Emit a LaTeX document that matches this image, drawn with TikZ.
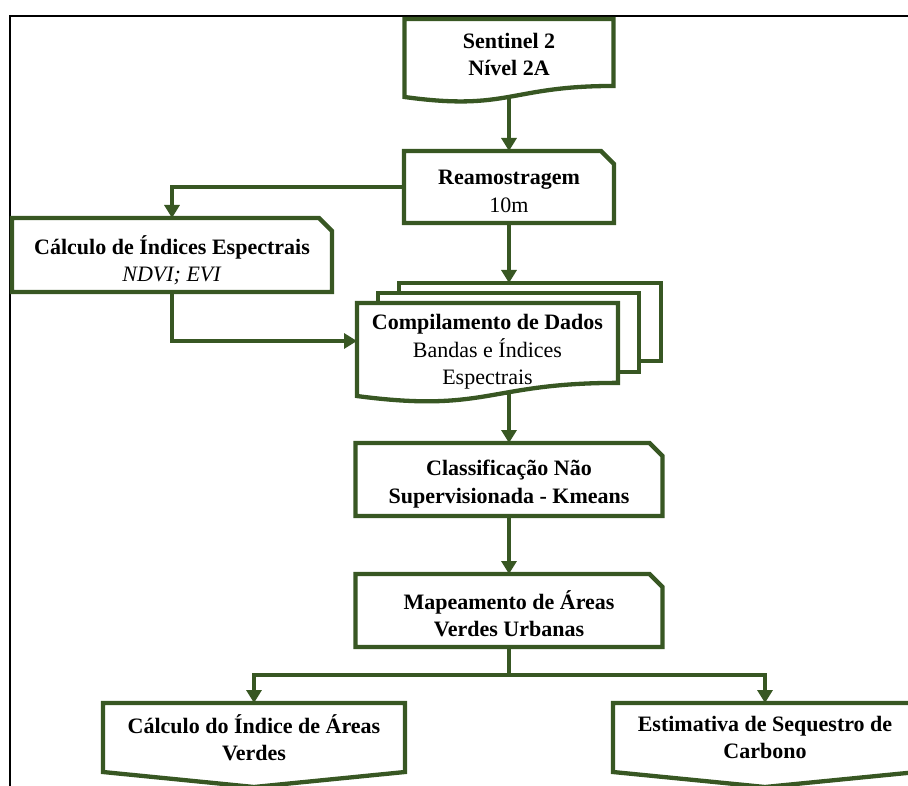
\documentclass[tikz,border=0pt]{standalone}
\usepackage{fontspec}
\setmainfont{Liberation Serif}
\usepackage{tikz}
\usetikzlibrary{arrows.meta, calc}
\definecolor{fluxo}{RGB}{56,87,35}

\newcommand{\docshape}[2]{\draw[caixa] (#1.north west) -- (#1.north east) -- ($(#1.north east)+(0,0.802*#2)$) .. controls ($(#1.north)+(0,0.802*#2)$) and ($(#1.north)+(0,1.107*#2)$) .. ($(#1.north west)+(0,0.934*#2)$) -- cycle;}
\newcommand{\snipshape}[1]{\draw[caixa] (#1.south west) -- (#1.north west) -- ($(#1.north east)+(-13,0)$) -- ($(#1.north east)+(0,13)$) -- (#1.south east) -- cycle;}
\newcommand{\offshape}[2]{\draw[caixa] (#1.north west) -- (#1.north east) -- (#1.south east) -- ($(#1.south)+(0,#2)$) -- (#1.south west) -- cycle;}

\begin{document}
\begin{tikzpicture}[x = 1pt, y = -1pt,
  texto/.style = {align = center, font = \fontsize{22}{27.5}\selectfont, inner sep = 0pt, outer sep = 0pt},
  caixa/.style = {draw = fluxo, line width = 4.3pt},
  seta/.style = {draw = fluxo, line width = 4.3pt, -{Triangle[length = 13pt, width = 15pt]}}]
\useasboundingbox (0,0) rectangle (908,786);
\clip (0,0) rectangle (908,786);
\draw[line width = 2pt] (10,786) -- (10,16) -- (908,16);

\node[texto, minimum width = 209pt, minimum height = 71pt] (sen) at (509,54.5) {\textbf{Sentinel 2}\\\textbf{Nível 2A}};
\node[texto, minimum width = 210pt, minimum height = 72pt] (rea) at (509,187) {\rule{0pt}{23pt}\textbf{Reamostragem}\\10m};
\node[texto, minimum width = 320pt, minimum height = 74pt] (cal1) at (172,255) {\rule{0pt}{29pt}\textbf{Cálculo de Índices Espectrais}\\\textit{NDVI; EVI}};
\node[texto, minimum width = 261pt, minimum height = 98pt] (com) at (487.5,352) {\textbf{Compilamento de Dados}\\Bandas e Índices\\Espectrais};
\node[texto, minimum width = 307pt, minimum height = 73pt] (cla) at (509,479.5) {\rule{0pt}{25pt}\textbf{Classificação Não}\\\textbf{Supervisionada - Kmeans}};
\node[texto, minimum width = 307pt, minimum height = 73pt] (map) at (509,610.5) {\rule{0pt}{25.5pt}\textbf{Mapeamento de Áreas}\\\textbf{Verdes Urbanas}};
\node[texto, minimum width = 302pt, minimum height = 69pt] (cal2) at (254,737.5) {\textbf{Cálculo do Índice de Áreas}\\\textbf{Verdes}};
\node[texto, minimum width = 304pt, minimum height = 69pt] (est) at (765,737.5) {\textbf{Estimativa de Sequestro de}\\\textbf{Carbono}};

\docshape{sen}{83.5}
\snipshape{rea}
\snipshape{cal1}
\draw[caixa] ($(com.north west)+(42,-10)$) -- ++(0,-10) -- ($(com.north east)+(43,-20)$) -- ($(com.north east)+(43,58)$) -- ($(com.north east)+(21,58)$);
\draw[caixa] ($(com.north west)+(21,0)$) -- ++(0,-10) -- ($(com.north east)+(21,-10)$) -- ($(com.north east)+(21,69)$) -- ($(com.north east)+(0,69)$);
\docshape{com}{99.6}
\snipshape{cla}
\snipshape{map}
\offshape{cal2}{15}
\offshape{est}{15}

\coordinate (senout) at ($(sen.north)+(0,0.933*83.5)$);
\coordinate (pilha) at ($(rea.south |- com.north)+(0,-20)$);
\coordinate (comin) at ($(com.north west)+(0,38)$);
\coordinate (comout) at ($(com.north -| cla.north)+(0,89)$);
\coordinate (bifur) at ($(map.south)+(0,28)$);

\draw[seta] (senout) -- (rea.north);
\draw[seta] (rea.west) -| (cal1.north);
\draw[seta] (rea.south) -- (pilha);
\draw[seta] (cal1.south) |- (comin);
\draw[seta] (comout) -- (cla.north);
\draw[seta] (cla.south) -- (map.north);
\draw[caixa] (map.south) -- (bifur);
\draw[seta] (bifur) -| (cal2.north);
\draw[seta] (bifur) -| (est.north);
\end{tikzpicture}
\end{document}
